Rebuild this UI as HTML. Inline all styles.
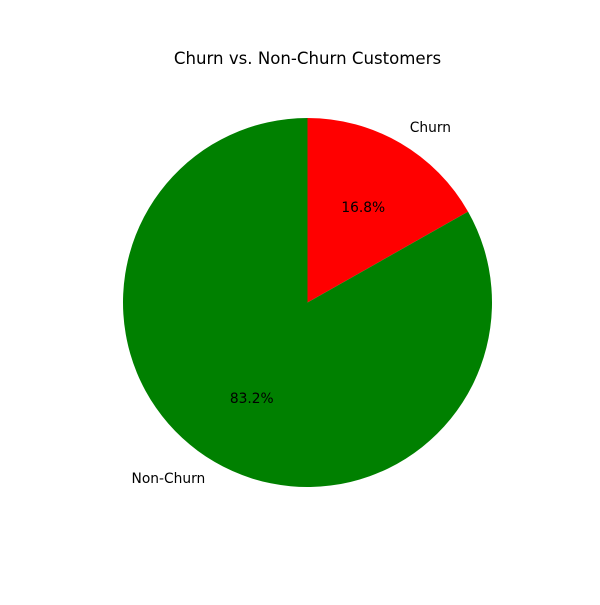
<!DOCTYPE html>
<html>
<head>
<meta charset="utf-8">
<style>
html,body{margin:0;padding:0;background:#fff;}
svg text{font-family:"DejaVu Sans","Liberation Sans",sans-serif;}
</style>
</head>
<body>
<svg width="600" height="600" viewBox="0 0 600 600">
<rect width="600" height="600" fill="#fff"/>
<text x="307.5" y="64" text-anchor="middle" font-size="16.6" fill="#000">Churn vs. Non-Churn Customers</text>
<g id="pie"></g>
</svg>
<script>
const categories = ["Churn", "Non-Churn"];
const values = [16.8, 83.2];
const colors = ["#ff0000", "#008000"];
const cx = 307.5, cy = 302.5, r = 184.5;
const g = document.getElementById('pie');
const NS = 'http://www.w3.org/2000/svg';
const total = values.reduce((a, b) => a + b, 0);
let start = 90;
function pt(deg, rad) {
  const a = deg * Math.PI / 180;
  return [cx + rad * Math.cos(a), cy - rad * Math.sin(a)];
}
values.forEach((v, i) => {
  const sweep = v / total * 360;
  const end = start - sweep;
  const [x1, y1] = pt(start, r);
  const [x2, y2] = pt(end, r);
  const large = sweep > 180 ? 1 : 0;
  const p = document.createElementNS(NS, 'path');
  p.setAttribute('d', `M${cx},${cy} L${x1},${y1} A${r},${r} 0 ${large} 1 ${x2},${y2} Z`);
  p.setAttribute('fill', colors[i]);
  
  
  g.appendChild(p);
  const mid = start - sweep / 2;
  const [lx, ly] = pt(mid, r * 1.1);
  const lt = document.createElementNS(NS, 'text');
  lt.setAttribute('x', lx);
  lt.setAttribute('y', ly + 5);
  lt.setAttribute('font-size', '13.8');
  lt.setAttribute('text-anchor', Math.cos(mid * Math.PI / 180) >= 0 ? 'start' : 'end');
  lt.textContent = categories[i];
  
  
  g.appendChild(lt);
  const [px, py] = pt(mid, r * 0.6);
  const pl = document.createElementNS(NS, 'text');
  pl.setAttribute('x', px);
  pl.setAttribute('y', py + 5);
  pl.setAttribute('font-size', '13.8');
  pl.setAttribute('text-anchor', 'middle');
  pl.textContent = (v / total * 100).toFixed(1) + '%';
  
  
  g.appendChild(pl);
  start = end;
});
</script>
</body>
</html>
